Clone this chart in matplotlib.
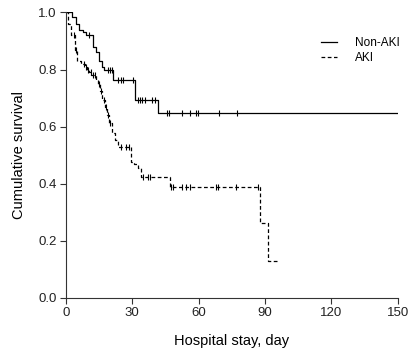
# Kaplan-Meier style survival curves, Non-AKI vs AKI
import numpy as np
import matplotlib
matplotlib.use("Agg")
import matplotlib.pyplot as plt

plt.rcParams["font.family"] = ["Liberation Sans", "DejaVu Sans"]

# step times (day) and survival after each step
nonaki_t = [0, 2.7, 4.4, 6.0, 7.8, 9.3, 12.3, 13.5, 15.0, 16.5, 17.3, 21.4, 31.3, 41.8, 150]
nonaki_s = [1.0, 0.985, 0.96, 0.94, 0.93, 0.92, 0.88, 0.86, 0.83, 0.81, 0.80, 0.765, 0.695, 0.647, 0.647]
nonaki_cens = [10.5, 19.0, 20.0, 21.0, 23.6, 24.7, 25.9, 30.4, 32.7, 33.4, 34.2, 35.7, 38.7,
               40.2, 45.8, 46.7, 52.3, 56.0, 58.7, 59.8, 69.3, 77.4]

aki_t = [0, 1.0, 2.5, 4.0, 5.0, 7.0, 8.5, 9.5, 10.5, 11.5, 13.5, 14.5, 15.5, 16.3, 17.5, 18.5,
         19.5, 20.7, 22.2, 23.6, 29.2, 30.7, 32.6, 34.0, 47.0, 87.8, 91.2, 96.0]
aki_s = [1.0, 0.96, 0.92, 0.87, 0.83, 0.82, 0.81, 0.80, 0.79, 0.78, 0.765, 0.748, 0.724, 0.695,
         0.67, 0.641, 0.612, 0.577, 0.553, 0.528, 0.477, 0.47, 0.455, 0.425, 0.39, 0.262, 0.131, 0.131]
aki_cens = [3.5, 4.5, 8.0, 9.0, 10.2, 11.2, 12.2, 13.0, 15.0, 16.0, 17.0, 18.0, 19.0, 20.0,
            25.0, 27.3, 28.5, 35.0, 37.3, 38.2, 47.6, 48.6, 52.3, 54.5, 56.0, 67.8, 68.8,
            77.1, 87.0]


def surv_at(times, surv, t):
    idx = np.searchsorted(times, t, side="right") - 1
    return np.asarray(surv)[idx]


fig = plt.figure(figsize=(4.17, 3.56), dpi=100)
ax = fig.add_axes([0.158, 0.163, 0.796, 0.802])

ax.step(nonaki_t, nonaki_s, where="post", color="black", lw=0.9, label="Non-AKI")
ax.plot(nonaki_cens, surv_at(nonaki_t, nonaki_s, nonaki_cens), "|", color="black",
        ms=5, mew=0.8)

ax.step(aki_t, aki_s, where="post", color="black", lw=0.9, ls=(0, (3, 2)), label="AKI")
ax.plot(aki_cens, surv_at(aki_t, aki_s, aki_cens), "|", color="black", ms=5, mew=0.8)

ax.set_xlim(0, 150)
ax.set_ylim(0, 1.0)
ax.set_xticks([0, 30, 60, 90, 120, 150])
ax.set_yticks([0.0, 0.2, 0.4, 0.6, 0.8, 1.0])
ax.set_yticklabels(["0.0", "0.2", "0.4", "0.6", "0.8", "1.0"])
ax.spines["top"].set_visible(False)
ax.spines["right"].set_visible(False)
for sp in ["left", "bottom"]:
    ax.spines[sp].set_linewidth(0.8)
    ax.spines[sp].set_color("#333333")
ax.tick_params(direction="out", length=4, width=0.8, labelsize=9.5, colors="#333333",
               labelcolor="#222222", pad=2.5)

ax.set_xlabel("Hospital stay, day", fontsize=10.5, labelpad=11)
ax.set_ylabel("Cumulative survival", fontsize=10.5, labelpad=9)

ax.legend(loc="upper right", bbox_to_anchor=(1.005, 0.915), frameon=False, fontsize=8.5,
          handlelength=1.35, handletextpad=1.5, labelspacing=0.25, borderaxespad=0,
          borderpad=0)

fig.savefig("out.png", dpi=100)
